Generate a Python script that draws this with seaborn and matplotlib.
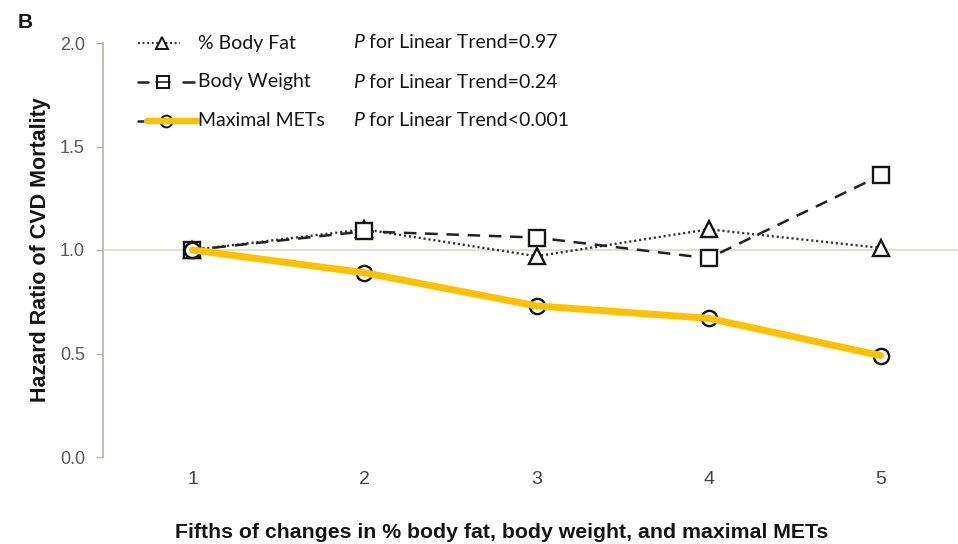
import matplotlib
matplotlib.use("Agg")
import matplotlib.pyplot as plt
from matplotlib.lines import Line2D
import seaborn as sns
import pandas as pd

# Fifths of change and hazard ratios for each exposure
fifths = [1, 2, 3, 4, 5]
body_fat = [1.00, 1.10, 0.97, 1.10, 1.01]
body_weight = [1.00, 1.09, 1.06, 0.96, 1.36]
maximal_mets = [1.00, 0.89, 0.73, 0.67, 0.49]

series_names = ["% Body Fat", "Body Weight", "Maximal METs"]
trend_labels = ["P for Linear Trend=0.97", "P for Linear Trend=0.24",
                "P for Linear Trend<0.001"]
y_ticks = [0.0, 0.5, 1.0, 1.5, 2.0]
x_title = "Fifths of changes in % body fat, body weight, and maximal METs"

df = pd.DataFrame({
    "fifth": fifths * 3,
    "hr": body_fat + body_weight + maximal_mets,
    "series": sum([[n] * len(fifths) for n in series_names], []),
})

sns.set_theme(style="white")
plt.rcParams["font.family"] = ["Liberation Sans", "DejaVu Sans"]

W, H = 958, 544
fig = plt.figure(figsize=(W / 100, H / 100), dpi=100)
ax = fig.add_axes([103 / W, 1 - 457 / H, 1 - 103 / W, (457 - 43) / H])

GOLD = "#FFC000"
AXC = "#b9b2a2"
INK = "#141414"

# reference line at HR = 1
ax.axhline(1.0, color="#dcd8ca", lw=1.2, zorder=1)

d_fat = df[df.series == "% Body Fat"]
d_wt = df[df.series == "Body Weight"]
d_met = df[df.series == "Maximal METs"]

mk = dict(markersize=11, markerfacecolor="white", markeredgecolor=INK,
          markeredgewidth=1.7)
sns.lineplot(data=d_fat, x="fifth", y="hr", ax=ax, color="#333333", lw=1.7,
             linestyle=(0, (0.9, 1.2)), marker="^", zorder=3, **mk)
sns.lineplot(data=d_wt, x="fifth", y="hr", ax=ax, color="#222222", lw=1.8,
             linestyle=(0, (5, 3.5)), marker="s", zorder=3, **mk)
sns.lineplot(data=d_met, x="fifth", y="hr", ax=ax, color=INK, lw=0,
             marker="o", markersize=11, markerfacecolor="none",
             markeredgecolor=INK, markeredgewidth=1.7, zorder=4)
sns.lineplot(data=d_met, x="fifth", y="hr", ax=ax, color=GOLD, lw=5,
             zorder=5)

ax.set_xlim(0.48, 5.45)
ax.set_ylim(0, 2.0)
ax.set_yticks(y_ticks)
ax.set_yticklabels([f"{v:.1f}" for v in y_ticks], color="#585858",
                   fontsize=13)
ax.set_xticks(fifths)
ax.set_xticklabels([str(f) for f in fifths], color="#444444", fontsize=14)
ax.tick_params(axis="x", length=0, pad=10)
ax.tick_params(axis="y", left=True, length=5, width=1, color=AXC, pad=8)

for s in ["top", "right", "bottom"]:
    ax.spines[s].set_visible(False)
ax.spines["left"].set_color(AXC)
ax.spines["left"].set_linewidth(1.2)

ax.set_ylabel("Hazard Ratio of CVD Mortality", fontsize=15.5,
              fontweight="bold", color=INK, va="center")
ax.yaxis.set_label_coords(-(103 - 41) / (W - 103), 0.5)

# x title sized to span its measured width
xl = ax.set_xlabel(x_title, fontsize=13.5, fontweight="bold", color=INK,
                   va="center")
ax.xaxis.set_label_coords((502 - 103) / (W - 103), -(533 - 457) / (457 - 43))
fig.canvas.draw()
wpx = xl.get_window_extent().width
xl.set_fontsize(13.5 * 652 / wpx)

fig.text(18 / W, 1 - 22 / H, "B", fontsize=15, fontweight="bold",
         va="center", ha="left", color=INK)


# legend drawn in figure pixel space
def fx(x):
    return x / W


def fy(y):
    return 1 - y / H


rows = [43, 82, 121]
lg_font = ["Lato", "DejaVu Sans"]
lmk = dict(markersize=8.5, markeredgecolor=INK, markeredgewidth=1.4, lw=0)

# % body fat
fig.add_artist(Line2D([fx(138), fx(180)], [fy(43)] * 2, color="#333333",
                      lw=1.5, linestyle=(0, (0.9, 1.3))))
fig.add_artist(Line2D([fx(162)], [fy(43)], marker="^",
                      markerfacecolor="white", **lmk))
# body weight
fig.add_artist(Line2D([fx(138), fx(148)], [fy(82)] * 2, color="#222222",
                      lw=1.8))
fig.add_artist(Line2D([fx(183), fx(194)], [fy(82)] * 2, color="#222222",
                      lw=1.8))
fig.add_artist(Line2D([fx(156), fx(170)], [fy(82)] * 2, color="#222222",
                      lw=1.2))
fig.add_artist(Line2D([fx(163)], [fy(82)], marker="s",
                      markerfacecolor="none", **lmk))
# maximal METs
fig.add_artist(Line2D([fx(138), fx(144)], [fy(121)] * 2, color="#222222",
                      lw=1.8))
fig.add_artist(Line2D([fx(166)], [fy(121)], marker="o",
                      markerfacecolor="none", **lmk))
fig.add_artist(Line2D([fx(147), fx(199)], [fy(121)] * 2, color=GOLD,
                      lw=4.5))

for name, tr, y in zip(series_names, trend_labels, rows):
    fig.text(fx(198), fy(y), name, fontsize=14, family=lg_font, va="center",
             ha="left", color=INK)
    fig.text(fx(353), fy(y), "P", fontsize=14, family=lg_font,
             style="italic", va="center", ha="left", color=INK)
    fig.text(fx(369), fy(y), tr[2:], fontsize=14, family=lg_font,
             va="center", ha="left", color=INK)

fig.savefig("out.png", dpi=100, facecolor="white")
